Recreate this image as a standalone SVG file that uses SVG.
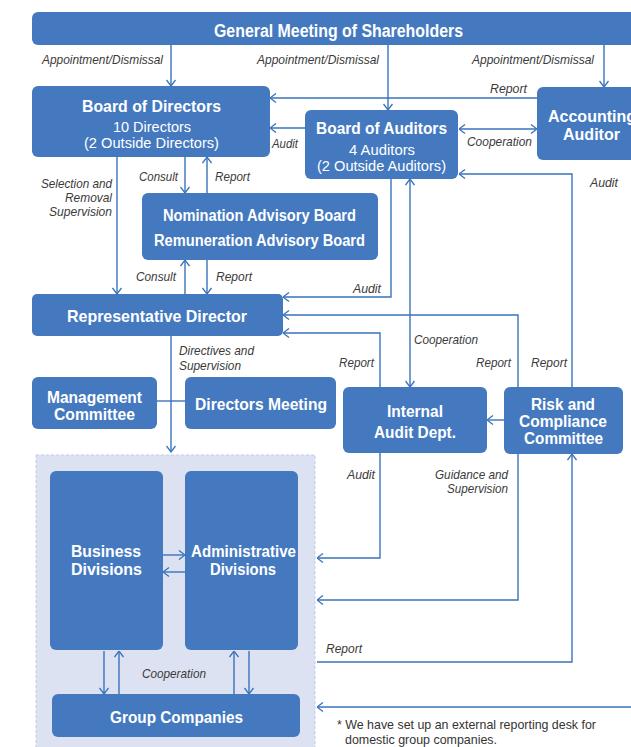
<svg xmlns="http://www.w3.org/2000/svg" width="631" height="747" viewBox="0 0 631 747">
<style>
.box{fill:#4479bf}
.tb{font-family:"Liberation Sans Narrow","Liberation Sans",Arial,sans-serif;font-weight:bold;fill:#fff;text-anchor:middle}
.tr{font-family:"Liberation Sans Narrow","Liberation Sans",Arial,sans-serif;fill:#fff;text-anchor:middle}
.lb{font-family:"Liberation Sans Narrow","Liberation Sans",Arial,sans-serif;font-style:italic;fill:#3a3a3a;font-size:13.5px}
.fn{font-family:"Liberation Sans Narrow","Liberation Sans",Arial,sans-serif;fill:#333;font-size:13.5px}
.c path{fill:none;stroke:#3a73ba;stroke-width:1.4}
.c path.e{marker-end:url(#a)}
.c path.s{marker-start:url(#a)}
</style>
<defs>
<marker id="a" viewBox="0 0 10 10" refX="9.5" refY="5" markerWidth="10" markerHeight="10" markerUnits="userSpaceOnUse" orient="auto-start-reverse"><path d="M3.5,0.5 L9.5,5 L3.5,9.5" fill="none" stroke="#3a73ba" stroke-width="1.3"/></marker>
</defs>
<rect width="631" height="747" fill="#fff"/>
<rect id="container" x="36" y="455" width="279" height="300" fill="#dde2f2" stroke="#c3cbe6" stroke-dasharray="3,2"/>

<g class="c" id="connectors">
<path class="e" d="M171,45V86"/>
<path class="e" d="M388,45V110"/>
<path class="e" d="M604,45V87"/>
<path class="e" d="M537,98H270"/>
<path class="e" d="M305,128H270"/>
<path class="e s" d="M459,129H537"/>
<path class="e" d="M572,387V174H459"/>
<path class="e" d="M185,157V193"/>
<path class="e" d="M207,193V157"/>
<path class="e" d="M117,157V294"/>
<path class="e" d="M185,294V260"/>
<path class="e" d="M207,260V294"/>
<path class="e" d="M391,179V297H283"/>
<path class="e s" d="M410,179V387"/>
<path class="e" d="M518,387V315H283"/>
<path class="e" d="M380,387V333H283"/>
<path class="e" d="M171,336V452"/>
<path d="M157,401H185"/>
<path class="e" d="M504,420H487"/>
<path class="e" d="M163,555H185"/>
<path class="e" d="M185,572H163"/>
<path class="e" d="M104,651V694"/>
<path class="e" d="M119,694V651"/>
<path class="e" d="M234,694V651"/>
<path class="e" d="M249,651V694"/>
<path class="e" d="M380,453V558H317"/>
<path class="e" d="M518,454V600H317"/>
<path class="e" d="M317,662H572V454"/>
<path class="e" d="M631,707H317"/>
</g>

<g id="gms"><rect class="box" x="32" y="12" width="610" height="33" rx="6"/>
<text class="tb" x="338.5" y="37" font-size="18" textLength="249" lengthAdjust="spacingAndGlyphs">General Meeting of Shareholders</text></g>

<g id="bod"><rect class="box" x="32" y="86" width="238" height="71" rx="6"/>
<text class="tb" x="151.5" y="112" font-size="17" textLength="139" lengthAdjust="spacingAndGlyphs">Board of Directors</text>
<text class="tr" x="152" y="132" font-size="15" textLength="78" lengthAdjust="spacingAndGlyphs">10 Directors</text>
<text class="tr" x="151.5" y="148" font-size="15" textLength="135" lengthAdjust="spacingAndGlyphs">(2 Outside Directors)</text></g>

<g id="boa"><rect class="box" x="305" y="110" width="153" height="69" rx="6"/>
<text class="tb" x="381.5" y="134" font-size="17" textLength="131" lengthAdjust="spacingAndGlyphs">Board of Auditors</text>
<text class="tr" x="382" y="155" font-size="15" textLength="66" lengthAdjust="spacingAndGlyphs">4 Auditors</text>
<text class="tr" x="381.5" y="171" font-size="15" textLength="129" lengthAdjust="spacingAndGlyphs">(2 Outside Auditors)</text></g>

<g id="acc"><rect class="box" x="537" y="87" width="110" height="73" rx="6"/>
<text class="tb" x="592" y="122" font-size="17" textLength="88" lengthAdjust="spacingAndGlyphs">Accounting</text>
<text class="tb" x="591.5" y="140" font-size="17" textLength="57" lengthAdjust="spacingAndGlyphs">Auditor</text></g>

<g id="nom"><rect class="box" x="142" y="193" width="236" height="67" rx="6"/>
<text class="tb" x="259.5" y="220.5" font-size="16" textLength="193" lengthAdjust="spacingAndGlyphs">Nomination Advisory Board</text>
<text class="tb" x="259.5" y="245.5" font-size="16" textLength="211" lengthAdjust="spacingAndGlyphs">Remuneration Advisory Board</text></g>

<g id="rep"><rect class="box" x="32" y="294" width="251" height="42" rx="5"/>
<text class="tb" x="157" y="322" font-size="17" textLength="180" lengthAdjust="spacingAndGlyphs">Representative Director</text></g>

<g id="mgmt"><rect class="box" x="32" y="377" width="125" height="52" rx="6"/>
<text class="tb" x="94.5" y="402.5" font-size="16" textLength="95" lengthAdjust="spacingAndGlyphs">Management</text>
<text class="tb" x="94.5" y="419.5" font-size="16" textLength="81" lengthAdjust="spacingAndGlyphs">Committee</text></g>

<g id="dm"><rect class="box" x="185" y="377" width="151" height="52" rx="6"/>
<text class="tb" x="261" y="410" font-size="17" textLength="132" lengthAdjust="spacingAndGlyphs">Directors Meeting</text></g>

<g id="iad"><rect class="box" x="343" y="387" width="144" height="66" rx="6"/>
<text class="tb" x="415" y="417" font-size="17" textLength="56" lengthAdjust="spacingAndGlyphs">Internal</text>
<text class="tb" x="415" y="438" font-size="17" textLength="82" lengthAdjust="spacingAndGlyphs">Audit Dept.</text></g>

<g id="rcc"><rect class="box" x="504" y="387" width="119" height="67" rx="6"/>
<text class="tb" x="563" y="409.5" font-size="16" textLength="64" lengthAdjust="spacingAndGlyphs">Risk and</text>
<text class="tb" x="563" y="426.5" font-size="16" textLength="88" lengthAdjust="spacingAndGlyphs">Compliance</text>
<text class="tb" x="563.5" y="443.5" font-size="16" textLength="79" lengthAdjust="spacingAndGlyphs">Committee</text></g>

<g id="bus"><rect class="box" x="50" y="471" width="113" height="179" rx="6"/>
<text class="tb" x="106" y="557" font-size="17" textLength="70" lengthAdjust="spacingAndGlyphs">Business</text>
<text class="tb" x="106.5" y="575" font-size="17" textLength="71" lengthAdjust="spacingAndGlyphs">Divisions</text></g>

<g id="adm"><rect class="box" x="185" y="471" width="113" height="179" rx="6"/>
<text class="tb" x="243.5" y="557" font-size="17" textLength="105" lengthAdjust="spacingAndGlyphs">Administrative</text>
<text class="tb" x="243" y="575" font-size="17" textLength="66" lengthAdjust="spacingAndGlyphs">Divisions</text></g>

<g id="grp"><rect class="box" x="52" y="694" width="248" height="43" rx="6"/>
<text class="tb" x="176.5" y="723" font-size="17" textLength="133" lengthAdjust="spacingAndGlyphs">Group Companies</text></g>

<g id="labels">
<text class="lb" x="42" y="64" textLength="121" lengthAdjust="spacingAndGlyphs">Appointment/Dismissal</text>
<text class="lb" x="257" y="64" textLength="122" lengthAdjust="spacingAndGlyphs">Appointment/Dismissal</text>
<text class="lb" x="472" y="64" textLength="122" lengthAdjust="spacingAndGlyphs">Appointment/Dismissal</text>
<text class="lb" x="490" y="93" textLength="37" lengthAdjust="spacingAndGlyphs">Report</text>
<text class="lb" x="272" y="148" textLength="26" lengthAdjust="spacingAndGlyphs">Audit</text>
<text class="lb" x="467" y="146" textLength="65" lengthAdjust="spacingAndGlyphs">Cooperation</text>
<text class="lb" x="590" y="187" textLength="28" lengthAdjust="spacingAndGlyphs">Audit</text>
<text class="lb" x="139" y="181" textLength="39" lengthAdjust="spacingAndGlyphs">Consult</text>
<text class="lb" x="215" y="181" textLength="35" lengthAdjust="spacingAndGlyphs">Report</text>
<text class="lb" x="112" y="188" text-anchor="end" textLength="71" lengthAdjust="spacingAndGlyphs">Selection and</text>
<text class="lb" x="112" y="202" text-anchor="end" textLength="47" lengthAdjust="spacingAndGlyphs">Removal</text>
<text class="lb" x="112" y="216" text-anchor="end" textLength="63" lengthAdjust="spacingAndGlyphs">Supervision</text>
<text class="lb" x="136" y="281" textLength="40" lengthAdjust="spacingAndGlyphs">Consult</text>
<text class="lb" x="216" y="281" textLength="36" lengthAdjust="spacingAndGlyphs">Report</text>
<text class="lb" x="353" y="293" textLength="28" lengthAdjust="spacingAndGlyphs">Audit</text>
<text class="lb" x="414" y="344" textLength="64" lengthAdjust="spacingAndGlyphs">Cooperation</text>
<text class="lb" x="179" y="355" textLength="75" lengthAdjust="spacingAndGlyphs">Directives and</text>
<text class="lb" x="179" y="370" textLength="62" lengthAdjust="spacingAndGlyphs">Supervision</text>
<text class="lb" x="339" y="367" textLength="35" lengthAdjust="spacingAndGlyphs">Report</text>
<text class="lb" x="476" y="367" textLength="35" lengthAdjust="spacingAndGlyphs">Report</text>
<text class="lb" x="531" y="367" textLength="36" lengthAdjust="spacingAndGlyphs">Report</text>
<text class="lb" x="347" y="479" textLength="28" lengthAdjust="spacingAndGlyphs">Audit</text>
<text class="lb" x="508" y="479" text-anchor="end" textLength="73" lengthAdjust="spacingAndGlyphs">Guidance and</text>
<text class="lb" x="508" y="493" text-anchor="end" textLength="61" lengthAdjust="spacingAndGlyphs">Supervision</text>
<text class="lb" x="142" y="678" textLength="64" lengthAdjust="spacingAndGlyphs">Cooperation</text>
<text class="lb" x="326" y="653" textLength="36" lengthAdjust="spacingAndGlyphs">Report</text>
<text class="fn" x="337" y="728.5" textLength="259" lengthAdjust="spacingAndGlyphs">* We have set up an external reporting desk for</text>
<text class="fn" x="345" y="743.5" textLength="152" lengthAdjust="spacingAndGlyphs">domestic group companies.</text>
</g>
</svg>
